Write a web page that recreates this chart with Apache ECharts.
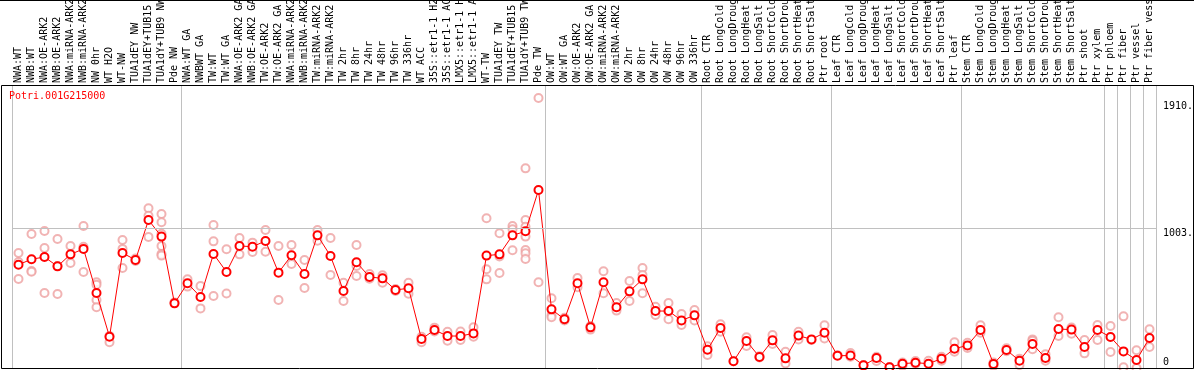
<!DOCTYPE html>
<html>
<head>
<meta charset="utf-8">
<script src="https://cdn.jsdelivr.net/npm/echarts@6/dist/echarts.min.js"></script>
<style>
html,body{margin:0;padding:0;background:#fff;}
#c{width:1194px;height:370px;}
</style>
</head>
<body>
<div id="c"></div>
<script>
const geneTitle = 'Potri.001G215000';

const categories = [
  'NWA:WT','NWB:WT','NWA:OE-ARK2','NWB:OE-ARK2','NWA:miRNA-ARK2','NWB:miRNA-ARK2','NW 0hr','WT H2O','WT-NW',
  'TUA1dEY NW','TUA1dEY+TUB15 NW','TUA1dY+TUB9 NW','Pde NW',
  'NWA:WT GA','NWBWT GA','TW:WT','TW:WT GA','NWA:OE-ARK2 GA','NWB:OE-ARK2 GA','TW:OE-ARK2','TW:OE-ARK2 GA',
  'NWA:miRNA-ARK2 GA','NWB:miRNA-ARK2 GA','TW:miRNA-ARK2','TW:miRNA-ARK2 GA',
  'TW 2hr','TW 8hr','TW 24hr','TW 48hr','TW 96hr','TW 336hr','WT ACC',
  '35S::etr1-1 H2O','35S::etr1-1 ACC','LMX5::etr1-1 H2O','LMX5::etr1-1 ACC','WT-TW',
  'TUA1dEY TW','TUA1dEY+TUB15 TW','TUA1dY+TUB9 TW','Pde TW',
  'OW:WT','OW:WT GA','OW:OE-ARK2','OW:OE-ARK2 GA','OW:miRNA-ARK2','OW:miRNA-ARK2 GA',
  'OW 2hr','OW 8hr','OW 24hr','OW 48hr','OW 96hr','OW 336hr',
  'Root CTR','Root LongCold','Root LongDrought','Root LongHeat','Root LongSalt','Root ShortCold','Root ShortDrought','Root ShortHeat','Root ShortSalt','Ptr root',
  'Leaf CTR','Leaf LongCold','Leaf LongDrought','Leaf LongHeat','Leaf LongSalt','Leaf ShortCold','Leaf ShortDrought','Leaf ShortHeat','Leaf ShortSalt','Ptr leaf',
  'Stem CTR','Stem LongCold','Stem LongDrought','Stem LongHeat','Stem LongSalt','Stem ShortCold','Stem ShortDrought','Stem ShortHeat','Stem ShortSalt',
  'Ptr shoot','Ptr xylem','Ptr phloem','Ptr fiber','Ptr vessel','Ptr fiber vessel'
];

const meanValues = [
  740,779,795,728,814,853,537,224,824,774,1060,941,463,
  607,509,817,688,874,869,910,683,807,673,950,802,
  552,757,652,642,559,571,208,272,229,229,248,805,814,950,979,1275,
  420,349,607,291,614,435,549,635,408,408,341,377,
  131,287,48,193,79,198,69,232,205,253,
  88,89,19,71,5,31,38,31,67,138,
  162,272,29,129,52,172,72,279,275,150,272,222,119,57,215
];

const replicateValues = [
  [824,759,638],[960,695,690],[981,860,537],[924,530,730],[874,752],[1017,869,688],[614,597,487,435],[184,230],[917,853,716],
  [784,767],[1144,1091,939],[1103,1044,961,874,817,805],[470],
  [635,583],[587,427],[1024,907,516],[850,533],[931,814],[898,831],[989,833],[874,487],
  [881,745],[774,573],[989,912],[931,666],
  [611,480],[881,731,659],[673,640],[664,611],[565,552],[611,532],[184,224],
  [289,262],[260,196],[262,201],[291,224],[1072,707,635],
  [965,798,681],[1017,993,843],[1430,1060,1012,941,845,822,781],[1934,614],
  [499,377,363],[360,340],[645,578],[275,300],[693,535],[466,411],
  [623,480],[716,666,535],[439,380],[466,349],[387,308],[416,340],
  [93,156],[313,260],[48],[220,158],[85,75],[236,172],[117,33],[260,205],[200],[306,212],
  [92],[108,80],[22],[50,80],[8],[16,40],[50,30],[52],[81,52],[184,117],
  [181,143],[306,253],[16,40],[141,120],[67,21],[205,196,134],[98,52],[363,229],[246,290],
  [201,105],[308,201],[301,115],[370,5],[127,0],[277,150]
];

const yTickValues = [0, 1003, 1910];
const gridLineValue = 1003;
// category indices where a new sample group starts (plus the end)
const groupStarts = [0, 13, 41, 53, 63, 73, 84, 85, 86, 87, 88];

const scatterData = [];
replicateValues.forEach((reps, i) => {
  reps.forEach(v => scatterData.push([categories[i], v]));
});

const MONO = '"DejaVu Sans Mono", "Liberation Mono", monospace';
const isGroupStart = (idx) => groupStarts.indexOf(idx) >= 0;

const chart = echarts.init(document.getElementById('c'), null, {renderer: 'canvas'});
chart.setOption({
  animation: false,
  backgroundColor: '#fff',
  title: {
    text: geneTitle,
    left: 9, top: 91, padding: 0,
    textStyle: {color: '#ff0000', fontFamily: MONO, fontSize: 10, fontWeight: 'normal'}
  },
  grid: {left: 12, right: 38, top: 85, bottom: 2, containLabel: false, outerBoundsMode: 'none'},
  xAxis: {
    type: 'category',
    position: 'top',
    data: categories,
    boundaryGap: true,
    axisLine: {show: false},
    axisTick: {show: true, interval: isGroupStart, length: 85, lineStyle: {color: '#c0c0c0', width: 1}},
    splitLine: {show: true, interval: isGroupStart, lineStyle: {color: '#c0c0c0', width: 1}},
    axisLabel: {interval: 0, rotate: 90, margin: 2, fontFamily: MONO, fontSize: 10, color: '#000'}
  },
  yAxis: {
    type: 'value',
    position: 'right',
    min: 0, max: 2027,
    axisLine: {show: false},
    axisTick: {show: false},
    splitLine: {show: false},
    axisLabel: {
      customValues: yTickValues,
      margin: 7,
      fontFamily: MONO, fontSize: 10, color: '#000',
      lineHeight: 11,
      verticalAlign: 'middle',
      formatter: v => v === 0 ? '0\n' : '\n' + v + '.'
    }
  },
  graphic: [
    {type: 'rect', silent: true, z: 100, shape: {x: 1.5, y: 85.5, width: 1192, height: 283},
     style: {fill: 'none', stroke: '#000', lineWidth: 1}},
    {type: 'line', silent: true, z: 100, shape: {x1: 0, y1: 0.5, x2: 1194, y2: 0.5},
     style: {stroke: '#000', lineWidth: 1}}
  ],
  series: [
    {
      type: 'scatter',
      data: scatterData,
      symbol: 'emptyCircle',
      symbolSize: 8,
      itemStyle: {color: '#eea0a0', borderWidth: 1.2},
      z: 2,
      markLine: {
        silent: true, symbol: 'none', label: {show: false},
        lineStyle: {color: '#c0c0c0', width: 1, type: 'solid'},
        data: [{yAxis: gridLineValue}]
      }
    },
    {
      type: 'line',
      data: meanValues,
      symbol: 'emptyCircle',
      symbolSize: 8,
      showAllSymbol: true,
      itemStyle: {color: '#ff0000', borderWidth: 1.6},
      lineStyle: {color: '#ff0000', width: 1},
      z: 3
    }
  ]
});
</script>
</body>
</html>
